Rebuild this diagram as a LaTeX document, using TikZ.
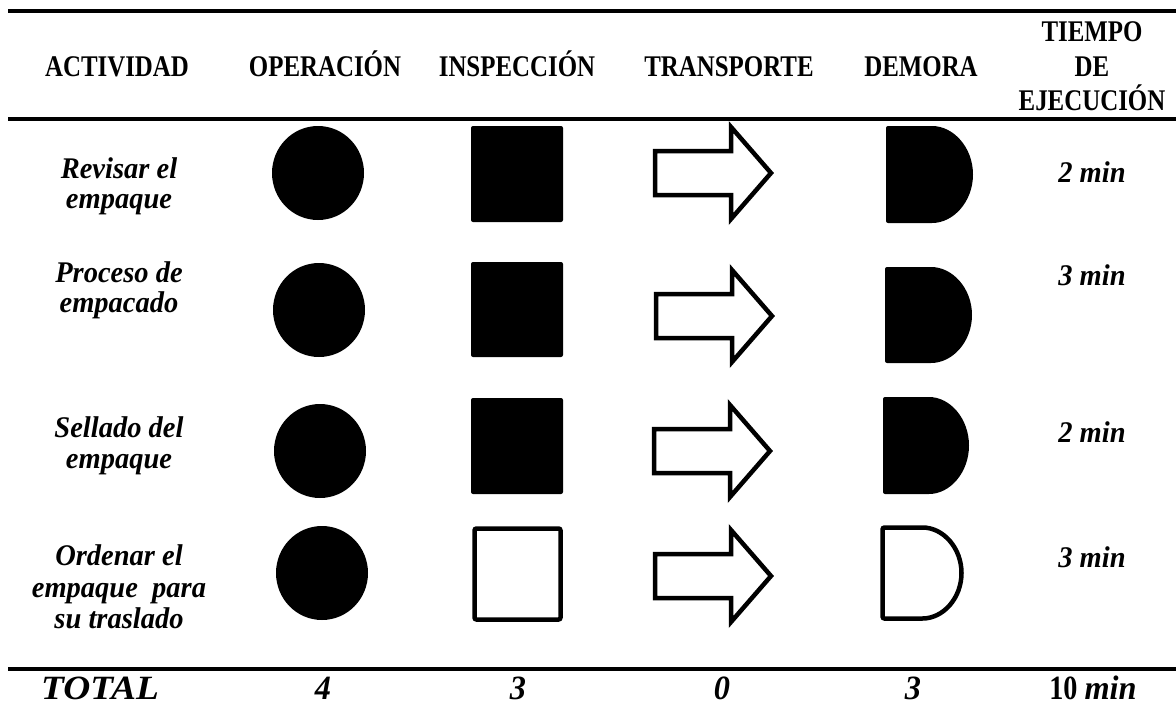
\documentclass[tikz,border=0pt]{standalone}
\usepackage{fontspec}
\newfontfamily\hdrfont[FakeStretch=0.83]{Liberation Serif}
\newfontfamily\itfont[FakeStretch=0.95]{Liberation Serif}
\newfontfamily\totfont[FakeStretch=1.1]{Liberation Serif}
\tikzset{
  hd/.style={font=\hdrfont\bfseries\fontsize{30}{30}\selectfont, anchor=base, inner sep=0pt},
  itx/.style={font=\itfont\bfseries\itshape\fontsize{30}{30}\selectfont, anchor=base, inner sep=0pt},
  totx/.style={font=\itfont\bfseries\itshape\fontsize{34}{34}\selectfont, anchor=base, inner sep=0pt, text depth=0pt},
  rule/.style={line width=3.5pt},
  filled/.style={fill=black, draw=none, rounded corners=2pt},
  hollow/.style={draw=black, line width=4.5pt, fill=white, miter limit=10},
}
\newcommand\opcircle[2]{\fill (#1,#2) ellipse [x radius=46, y radius=47];}
\newcommand\trarrow[2]{\draw[hollow, shift={(#1,#2)}] (-60,-22) -- (16,-22) -- (16,-46) -- (56,0) -- (16,46) -- (16,22) -- (-60,22) -- cycle;}
\begin{document}
\begin{tikzpicture}[x=1pt,y=-1pt]
\useasboundingbox (0,0) rectangle (1176,704);
% rules
\draw[rule] (8,11) -- (1176,11);
\draw[rule] (8,119) -- (1176,119);
\draw[rule] (8,669) -- (1176,669);
% header
\node[hd] (hAct) at (117,76) {ACTIVIDAD};
\node[hd] (hOp) at (325,76) {OPERACIÓN};
\node[hd] (hIn) at (517,76) {INSPECCIÓN};
\node[hd] (hTr) at (729,76) {TRANSPORTE};
\node[hd] (hDe) at (921,76) {DEMORA};
\node[hd] (hT1) at (1092,41) {TIEMPO};
\node[hd] (hT2) at (1092,76) {DE};
\node[hd] (hT3) at (1092,110) {EJECUCIÓN};
% activities
\node[itx] (a1a) at (119,178) {Revisar el};
\node[itx] (a1b) at (119,208) {empaque};
\node[itx] (a2a) at (119,282) {Proceso de};
\node[itx] (a2b) at (119,312) {empacado};
\node[itx] (a3a) at (119,437) {Sellado del};
\node[itx] (a3b) at (119,468) {empaque};
\node[itx] (a4a) at (119,565) {Ordenar el};
\node[itx] (a4b) at (119,597) {empaque\ \ para};
\node[itx] (a4c) at (119,628) {su traslado};
% times
\node[itx] (t1) at (1092,182) {2 min};
\node[itx] (t2) at (1092,285) {3 min};
\node[itx] (t3) at (1092,442) {2 min};
\node[itx] (t4) at (1092,567) {3 min};
% totals
\node[totx, font=\totfont\bfseries\itshape\fontsize{34}{34}\selectfont] (tot) at (100,699) {TOTAL};
\node[totx] (n1) at (323,699) {4};
\node[totx] (n2) at (518,699) {3};
\node[totx] (n3) at (722,699) {0};
\node[totx] (n4) at (913,699) {3};
\node[totx, font=\hdrfont\bfseries\fontsize{34}{34}\selectfont] (n5) at (1093,699) {10 \itfont\itshape min};
% operation circles
\opcircle{318}{173}
\opcircle{319}{310}
\opcircle{320}{451}
\opcircle{322}{573}
% inspection squares
\fill[filled] (471,126) rectangle (563,222);
\fill[filled] (471,262) rectangle (563,357);
\fill[filled] (471,398) rectangle (563,494);
\draw[hollow, rounded corners=2pt] (474.5,528.5) rectangle (560.5,619.5);
% transport arrows
\trarrow{715}{173}
\trarrow{716}{316}
\trarrow{714}{451}
\trarrow{715}{576}
% delay shapes
\fill[filled, shift={(886,126)}] (0,0) -- (44,0) arc[start angle=-90, end angle=90, x radius=43, y radius=48.5] -- (0,97) -- cycle;
\fill[filled, shift={(885,267)}] (0,0) -- (44,0) arc[start angle=-90, end angle=90, x radius=43, y radius=48] -- (0,96) -- cycle;
\fill[filled, shift={(883,397)}] (0,0) -- (44,0) arc[start angle=-90, end angle=90, x radius=42, y radius=48.5] -- (0,97) -- cycle;
\draw[hollow, rounded corners=2pt, shift={(882.5,527.5)}] (0,0) -- (38,0) arc[start angle=-90, end angle=90, x radius=41, y radius=45.5] -- (0,91) -- cycle;
\end{tikzpicture}
\end{document}
